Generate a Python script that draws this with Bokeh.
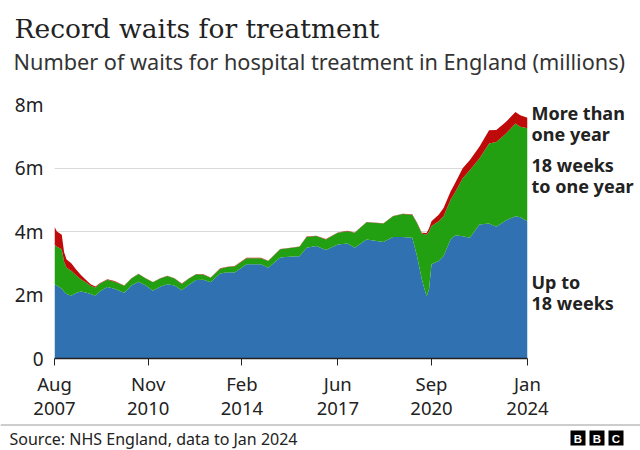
from datetime import datetime
from bokeh.plotting import figure
from bokeh.layouts import column
from bokeh.models import ColumnDataSource, FixedTicker, Range1d, LinearAxis
from bokeh.embed import file_html
from bokeh.resources import INLINE
from bokeh.core.properties import value

# ---- data (millions of waits) ----
dates = ["2007-08", "2007-09", "2007-11", "2007-12", "2008-01", "2008-03", "2008-05",
         "2008-07", "2008-09", "2008-11", "2009-01", "2009-03", "2009-06", "2009-09",
         "2010-01", "2010-04", "2010-07", "2010-10", "2011-01", "2011-04", "2011-07",
         "2011-10", "2012-01", "2012-04", "2012-07", "2012-10", "2013-01", "2013-05",
         "2013-08", "2013-11", "2014-04", "2014-10", "2015-01", "2015-06", "2015-11",
         "2016-02", "2016-05", "2016-09", "2017-01", "2017-06", "2017-10", "2018-01",
         "2018-06", "2019-01", "2019-05", "2019-09", "2020-01", "2020-03", "2020-05",
         "2020-07", "2020-08", "2020-09", "2020-12", "2021-02", "2021-05", "2021-07",
         "2021-10", "2022-01", "2022-05", "2022-09", "2022-12", "2023-04", "2023-08",
         "2023-10", "2024-01"]
up_to_18_weeks = [2.34, 2.30, 2.20, 2.10, 2.03, 1.98, 2.06, 2.11, 2.08, 2.03, 1.98, 2.12,
                  2.25, 2.20, 2.07, 2.30, 2.42, 2.30, 2.13, 2.26, 2.34, 2.30, 2.15, 2.32,
                  2.47, 2.48, 2.40, 2.68, 2.72, 2.71, 2.97, 2.97, 2.86, 3.18, 3.21, 3.22,
                  3.49, 3.54, 3.42, 3.59, 3.62, 3.49, 3.75, 3.67, 3.83, 3.83, 3.80, 3.23,
                  2.50, 1.95, 2.19, 2.97, 3.07, 3.23, 3.75, 3.88, 3.85, 3.80, 4.22, 4.25,
                  4.15, 4.35, 4.48, 4.45, 4.32]
weeks_18_to_one_year = [1.24, 1.22, 1.24, 0.95, 0.83, 0.78, 0.56, 0.39, 0.32, 0.26, 0.26,
                        0.24, 0.23, 0.22, 0.22, 0.22, 0.24, 0.22, 0.27, 0.26, 0.26, 0.22,
                        0.20, 0.20, 0.18, 0.16, 0.14, 0.15, 0.16, 0.19, 0.19, 0.19, 0.21,
                        0.26, 0.28, 0.30, 0.34, 0.32, 0.33, 0.37, 0.39, 0.47, 0.54, 0.58,
                        0.65, 0.72, 0.73, 1.04, 1.44, 1.95, 1.81, 1.20, 1.25, 1.25, 1.25,
                        1.37, 1.83, 2.14, 2.08, 2.52, 2.67, 2.73, 2.92, 2.85, 2.93]
more_than_one_year = [0.57, 0.48, 0.46, 0.30, 0.26, 0.24, 0.18, 0.13, 0.08, 0.05, 0.03,
                      0.02, 0.02, 0.02, 0.01, 0.01, 0.01, 0.01, 0.01, 0.01, 0.01, 0.01,
                      0.01, 0.01, 0.01, 0.01, 0.01, 0.01, 0.01, 0.01, 0.01, 0.01, 0.01,
                      0.01, 0.01, 0.01, 0.01, 0.01, 0.01, 0.01, 0.01, 0.01, 0.01, 0.01,
                      0.01, 0.01, 0.01, 0.01, 0.02, 0.05, 0.10, 0.15, 0.21, 0.26, 0.26,
                      0.29, 0.31, 0.31, 0.37, 0.42, 0.38, 0.37, 0.36, 0.36, 0.33]

tick_dates = ["2007-08", "2010-11", "2014-02", "2017-06", "2020-09", "2024-01"]
tick_labels = ["Aug\n2007", "Nov\n2010", "Feb\n2014", "Jun\n2017", "Sep\n2020", "Jan\n2024"]
y_ticks = [0, 2, 4, 6, 8]
y_tick_labels = ["0", "2m", "4m", "6m", "8m"]

series_names = ["More than\none year", "18 weeks\nto one year", "Up to\n18 weeks"]
series_label_at = [7.4, 5.77, 2.09]   # vertical anchor (millions) of each series label

title_text = "Record waits for treatment"
subtitle_text = "Number of waits for hospital treatment in England (millions)"
source_text = "Source: NHS England, data to Jan 2024"
logo_letters = ["B", "B", "C"]

BLUE = "#3071b1"
GREEN = "#22a012"
RED = "#bf0a0a"
TEXT = "#222222"
SANS = "Noto Sans"


def to_dt(s):
    return datetime.strptime(s, "%Y-%m")


def ms(s):
    return (to_dt(s) - datetime(1970, 1, 1)).total_seconds() * 1000.0


def strip(height):
    """Plain decorative strip whose frame covers its whole canvas (pixel coords)."""
    s = figure(width=640, height=height, output_backend="svg", toolbar_location=None,
               x_range=Range1d(0, 640), y_range=Range1d(height, 0),
               min_border=0, x_axis_location=None, y_axis_location=None)
    s.frame_align = False
    s.outline_line_color = None
    s.grid.visible = False
    s.background_fill_color = "white"
    s.border_fill_color = "white"
    return s


# ---- header ----
h = strip(84)
h.text(x=14, y=28, text=[title_text], text_font=value("DejaVu Serif"),
       text_font_size="26.5px", text_color=TEXT, text_baseline="middle", text_align="left")
h.text(x=13, y=61, text=[subtitle_text], text_font=value(SANS),
       text_font_size="21.7px", text_color="#333333", text_baseline="middle", text_align="left")

# ---- main chart ----
source = ColumnDataSource(dict(
    date=[to_dt(d) for d in dates],
    blue=up_to_18_weeks,
    green=weeks_18_to_one_year,
    red=more_than_one_year,
))

p = figure(width=640, height=339, x_axis_type="datetime",
           output_backend="svg", toolbar_location=None,
           x_range=Range1d(to_dt(dates[0]), to_dt(dates[-1])),
           y_range=Range1d(0, 8),
           min_border_left=54, min_border_right=113,
           min_border_top=20, min_border_bottom=63)
p.frame_align = False
p.outline_line_color = None
p.background_fill_color = "white"
p.border_fill_color = "white"

p.varea_stack(["blue", "green", "red"], x="date", color=[BLUE, GREEN, RED],
              source=source)

p.xgrid.visible = False
p.ygrid.ticker = FixedTicker(ticks=y_ticks)
p.ygrid.grid_line_color = "#d9d9d9"
p.ygrid.grid_line_width = 1

ya = p.yaxis[0]
ya.ticker = FixedTicker(ticks=y_ticks)
ya.major_label_overrides = {t: l for t, l in zip(y_ticks, y_tick_labels)}
ya.axis_line_color = None
ya.major_tick_line_color = None
ya.minor_tick_line_color = None
ya.major_label_text_font = SANS
ya.major_label_text_font_size = "19px"
ya.major_label_text_color = TEXT
ya.major_label_standoff = 5

xa = p.xaxis[0]
xt = [ms(d) for d in tick_dates]
xa.ticker = FixedTicker(ticks=xt)
xa.major_label_overrides = {t: l for t, l in zip(xt, tick_labels)}
xa.axis_line_color = "#222222"
xa.axis_line_width = 1.5
xa.major_tick_line_color = "#222222"
xa.major_tick_line_width = 1
xa.major_tick_out = 7
xa.major_tick_in = 0
xa.minor_tick_line_color = None
xa.major_label_text_font = SANS
xa.major_label_text_font_size = "18.5px"
xa.major_label_text_color = TEXT
xa.major_label_standoff = 5
xa.major_label_text_line_height = 0.98

# series labels as a right-hand axis
ra = LinearAxis(ticker=FixedTicker(ticks=series_label_at),
                major_label_overrides={t: n for t, n in zip(series_label_at, series_names)})
ra.axis_line_color = None
ra.major_tick_line_color = None
ra.minor_tick_line_color = None
ra.major_label_standoff = -2
ra.major_label_text_font = SANS
ra.major_label_text_font_size = "18px"
ra.major_label_text_font_style = "bold"
ra.major_label_text_color = TEXT
ra.major_label_text_line_height = 0.88
p.add_layout(ra, "right")

# ---- footer ----
f = strip(27)
f.segment(x0=0, y0=1.5, x1=640, y1=1.5, line_color="#9a9a9a", line_width=1)
f.text(x=9, y=15.5, text=[source_text], text_font=value(SANS), text_font_size="16px",
       text_color=TEXT, text_baseline="middle", text_align="left")
logo_x = [577.5 + 19 * i for i in range(len(logo_letters))]
f.rect(x=logo_x, y=[14.5] * 3, width=15, height=15, fill_color="black", line_color=None)
f.text(x=logo_x, y=[15] * 3, text=logo_letters, text_font=value("Liberation Sans"),
       text_font_size="11.5px", text_font_style="bold", text_color="white",
       text_baseline="middle", text_align="center")

layout = column(h, p, f, spacing=0)
open("out.html", "w").write(file_html(layout, INLINE))
